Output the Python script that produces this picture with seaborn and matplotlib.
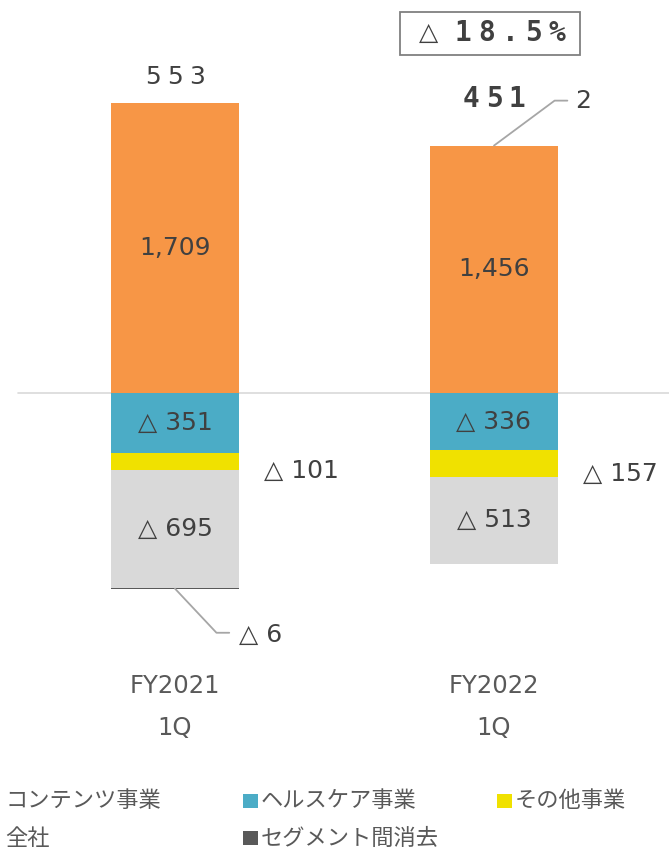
import pandas as pd
import matplotlib.pyplot as plt
import seaborn as sns
from matplotlib.patches import Rectangle
from matplotlib.transforms import offset_copy

# -----------------------------
# Data
# -----------------------------
periods = ["FY2021\n1Q", "FY2022\n1Q"]
contents = [1709, 1456]
healthcare = [-351, -336]
other = [-101, -157]
corporate = [-695, -513]
elimination = [-6, 2]
totals = [553, 451]
change_label = "△18.5%"

segment_names = ["コンテンツ事業", "ヘルスケア事業", "その他事業", "全社", "セグメント間消去"]
segment_colors = ["#F79646", "#4BACC6", "#F0E100", "#D9D9D9", "#595959"]

text_color = "#404040"

sns.set_theme(style="white")
plt.rcParams["font.family"] = ["DejaVu Sans", "Noto Sans CJK JP"]

fig = plt.figure(figsize=(6.69, 8.52), dpi=100)
ax = fig.add_axes([0, 0, 1, 1])


def spaced_text(x, y, s, step_pt, **kw):
    # draw characters one by one with extra letter spacing
    n = len(s)
    for k, ch in enumerate(s):
        dx = (k - (n - 1) / 2) * step_pt
        tr = offset_copy(ax.transData, fig=fig, x=dx, y=0, units="points")
        ax.text(x, y, ch, transform=tr, ha="center", va="center", **kw)


# stack positives upward, negatives downward
df = pd.DataFrame({
    "period": periods,
    "contents": contents,
    "healthcare": healthcare,
    "other": other,
    "corporate": corporate,
    "elimination": elimination,
})

bar_w = 0.4
neg_bottom = [0, 0]
pos_bottom = [0, 0]
stack_info = {}
for col, color in zip(["contents", "healthcare", "other", "corporate", "elimination"], segment_colors):
    vals = df[col].tolist()
    bottoms = []
    for i, v in enumerate(vals):
        if v >= 0:
            bottoms.append(pos_bottom[i])
            pos_bottom[i] += v
        else:
            bottoms.append(neg_bottom[i])
            neg_bottom[i] += v
    stack_info[col] = bottoms
    sns.barplot(x="period", y=col, data=df, color=color, width=bar_w,
                bottom=bottoms, saturation=1, ax=ax, linewidth=0)

ax.set_ylim(-2705, 2316)
ax.set_xlim(-0.5486, 1.5486)
ax.axhline(0, xmin=0.027, xmax=1, color="#D9D9D9", linewidth=1.2, zorder=0)

# labels inside bars
for i in range(2):
    ax.text(i, contents[i] / 2, f"{contents[i]:,}", ha="center", va="center",
            fontsize=18, color=text_color)
    ax.text(i, healthcare[i] / 2, f"△ {-healthcare[i]}", ha="center", va="center",
            fontsize=18, color=text_color)
    b = stack_info["corporate"][i]
    ax.text(i, b + corporate[i] / 2, f"△ {-corporate[i]}", ha="center", va="center",
            fontsize=18, color=text_color)
    b = stack_info["other"][i]
    ax.text(i + 0.395, b + other[i] / 2 - 60, f"△ {-other[i]}", ha="center", va="center",
            fontsize=18, color=text_color)

# totals
spaced_text(0, contents[0] + 155, str(totals[0]), 16, fontsize=18, color=text_color)
spaced_text(1, pos_bottom[1] + 275, str(totals[1]), 16.5, fontsize=20, color=text_color,
            fontweight="bold", family="DejaVu Sans Mono")

# change box
ax.add_patch(Rectangle((0.705, 1992), 0.565, 253, facecolor="white",
                       edgecolor="#808080", linewidth=1.3, zorder=3))
ax.text(0.795, 2120, change_label[0], ha="center", va="center", fontsize=18,
        color=text_color, zorder=4)
spaced_text(1.05, 2120, change_label[1:], 16.8, fontsize=20, color=text_color,
            fontweight="bold", family="DejaVu Sans Mono", zorder=4)

# leader lines for small elimination values
b0 = neg_bottom[0]
ax.plot([0, 0.13, 0.17], [b0, b0 - 260, b0 - 260], color="#A6A6A6", lw=1.3)
ax.text(0.2, b0 - 270, f"△ {-elimination[0]}", ha="left", va="center",
        fontsize=18, color=text_color)
t1 = pos_bottom[1]
ax.plot([1, 1.19, 1.23], [t1, t1 + 265, t1 + 265], color="#A6A6A6", lw=1.3)
ax.text(1.255, t1 + 265, str(elimination[1]), ha="left", va="center",
        fontsize=18, color=text_color)

# category labels
for i, p in enumerate(periods):
    top, bottom = p.split("\n")
    ax.text(i, -1724, top, ha="center", va="center", fontsize=17.5, color="#595959")
    ax.text(i, -1977, bottom, ha="center", va="center", fontsize=17.5, color="#595959")

ax.set_axis_off()

# legend
legend_items = [
    (0.008, 0.060, segment_names[0], None),
    (0.363, 0.060, segment_names[1], segment_colors[1]),
    (0.743, 0.060, segment_names[2], segment_colors[2]),
    (0.008, 0.016, segment_names[3], None),
    (0.363, 0.016, segment_names[4], segment_colors[4]),
]
for x, y, name, color in legend_items:
    tx = x
    if color is not None:
        fig.add_artist(Rectangle((x, y - 0.008), 0.022, 0.0165, transform=fig.transFigure,
                                 facecolor=color, edgecolor="none"))
        tx = x + 0.027
    fig.text(tx, y, name, ha="left", va="center", fontsize=16, color="#595959",
             family=["Noto Sans CJK JP", "DejaVu Sans"])

fig.savefig("out.png", dpi=100)
plt.close()
